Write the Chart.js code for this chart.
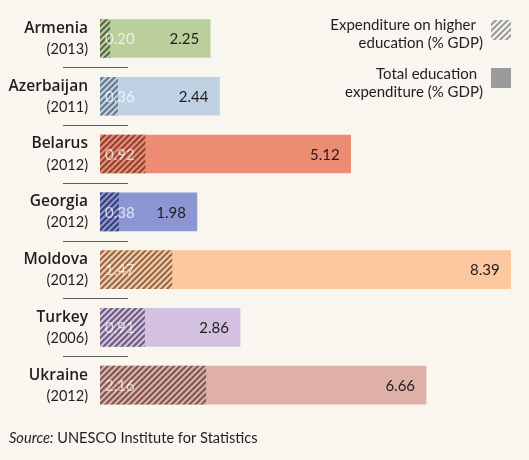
<!DOCTYPE html>
<html>
<head>
<meta charset="utf-8">
<script src="https://cdn.jsdelivr.net/npm/chart.js@4/dist/chart.umd.min.js"></script>
<style>
  html, body { margin: 0; padding: 0; background: #f9f6f0; }
  #wrap { width: 529px; height: 460px; position: relative; }
</style>
</head>
<body>
<div id="wrap"><canvas id="c" width="529" height="460"></canvas></div>
<script>
const countries = ['Armenia', 'Azerbaijan', 'Belarus', 'Georgia', 'Moldova', 'Turkey', 'Ukraine'];
const years = ['(2013)', '(2011)', '(2012)', '(2012)', '(2012)', '(2006)', '(2012)'];
const higherEd = [0.20, 0.36, 0.92, 0.38, 1.47, 0.91, 2.16];
const totalEd = [2.25, 2.44, 5.12, 1.98, 8.39, 2.86, 6.66];
const baseColors = ['#bacf9c', '#bfd1e2', '#ee8c73', '#8c96d2', '#fdc89f', '#d4c1e1', '#dfb0a7'];
const hatchColors = ['#56664a', '#66768a', '#8a4535', '#363e72', '#8d6a4e', '#6a5a78', '#7a5650'];
const legendLabels = [['Expenditure on higher', 'education (% GDP)'], ['Total education', 'expenditure (% GDP)']];
const sourceLabel = ['Source:', ' UNESCO Institute for Statistics'];

const FONT = 'Lato, "Open Sans", sans-serif';
const NAME_FONT = '"Open Sans", Lato, sans-serif';

function makePattern(bg, fg) {
  const s = 6;
  const c = document.createElement('canvas');
  c.width = s; c.height = s;
  const x = c.getContext('2d');
  if (bg) { x.fillStyle = bg; x.fillRect(0, 0, s, s); }
  x.strokeStyle = fg; x.lineWidth = 2;
  x.beginPath();
  x.moveTo(0, s); x.lineTo(s, 0);
  x.moveTo(-s / 2, s / 2); x.lineTo(s / 2, -s / 2);
  x.moveTo(s / 2, s * 1.5); x.lineTo(s * 1.5, s / 2);
  x.stroke();
  return x.createPattern(c, 'repeat');
}

const patterns = baseColors.map((b, i) => makePattern(b, hatchColors[i]));

const overlay = {
  id: 'overlay',
  afterDatasetsDraw(chart) {
    const ctx = chart.ctx;
    const yS = chart.scales.y;
    const area = chart.chartArea;
    const mTot = chart.getDatasetMeta(0);
    const mHi = chart.getDatasetMeta(1);
    ctx.save();
    countries.forEach((name, i) => {
      const cy = yS.getPixelForValue(i);
      ctx.fillStyle = '#1e1e1e';
      ctx.textAlign = 'right';
      ctx.textBaseline = 'middle';
      ctx.font = '600 15.5px ' + NAME_FONT;
      ctx.fillText(name, 88, cy - 10);
      ctx.font = '14.5px ' + FONT;
      ctx.fillText(years[i], 88, cy + 11);
      if (i < countries.length - 1) {
        const sy = Math.round((cy + yS.getPixelForValue(i + 1)) / 2) + 0.5;
        ctx.strokeStyle = '#5a5a5a';
        ctx.lineWidth = 1;
        ctx.beginPath();
        ctx.moveTo(63, sy); ctx.lineTo(128, sy);
        ctx.stroke();
      }
      const bt = mTot.data[i];
      ctx.font = '15px ' + FONT;
      ctx.fillStyle = '#1e1e1e';
      ctx.textAlign = 'right';
      ctx.fillText(totalEd[i].toFixed(2), bt.x - 11, bt.y + 1);
      const bh = mHi.data[i];
      ctx.fillStyle = 'rgba(255,255,255,0.72)';
      ctx.textAlign = 'left';
      ctx.fillText(higherEd[i].toFixed(2), area.left + 5, bh.y + 1);
    });
    ctx.font = '15px ' + FONT;
    ctx.fillStyle = '#1e1e1e';
    ctx.textAlign = 'right';
    ctx.textBaseline = 'middle';
    ctx.fillText(legendLabels[0][0], 476, 25);
    ctx.fillText(legendLabels[0][1], 483, 43);
    ctx.fillText(legendLabels[1][0], 477, 74);
    ctx.fillText(legendLabels[1][1], 483, 92);
    ctx.fillStyle = makePattern(null, '#9a9a9a');
    ctx.fillRect(491, 20, 20, 20);
    ctx.fillStyle = '#9b9b9b';
    ctx.fillRect(491, 68, 20, 20);
    ctx.textAlign = 'left';
    ctx.font = 'italic 14.6px ' + FONT;
    ctx.fillStyle = '#1e1e1e';
    ctx.fillText(sourceLabel[0], 9, 438);
    const w = ctx.measureText(sourceLabel[0]).width;
    ctx.font = '14.6px ' + FONT;
    ctx.fillText(sourceLabel[1], 9 + w, 438);
    ctx.restore();
  }
};

new Chart(document.getElementById('c'), {
  type: 'bar',
  data: {
    labels: countries,
    datasets: [
      { label: 'Total education expenditure (% GDP)', data: totalEd, backgroundColor: baseColors, order: 2, grouped: false, barThickness: 38 },
      { label: 'Expenditure on higher education (% GDP)', data: higherEd, backgroundColor: patterns, order: 1, grouped: false, barThickness: 38 }
    ]
  },
  options: {
    indexAxis: 'y',
    responsive: false,
    animation: false,
    layout: { padding: { left: 100, right: 8, top: 9.6, bottom: 46 } },
    scales: {
      x: { display: false, min: 0, max: 8.6 },
      y: { display: false }
    },
    plugins: { legend: { display: false }, tooltip: { enabled: false } }
  },
  plugins: [overlay]
});
</script>
</body>
</html>
